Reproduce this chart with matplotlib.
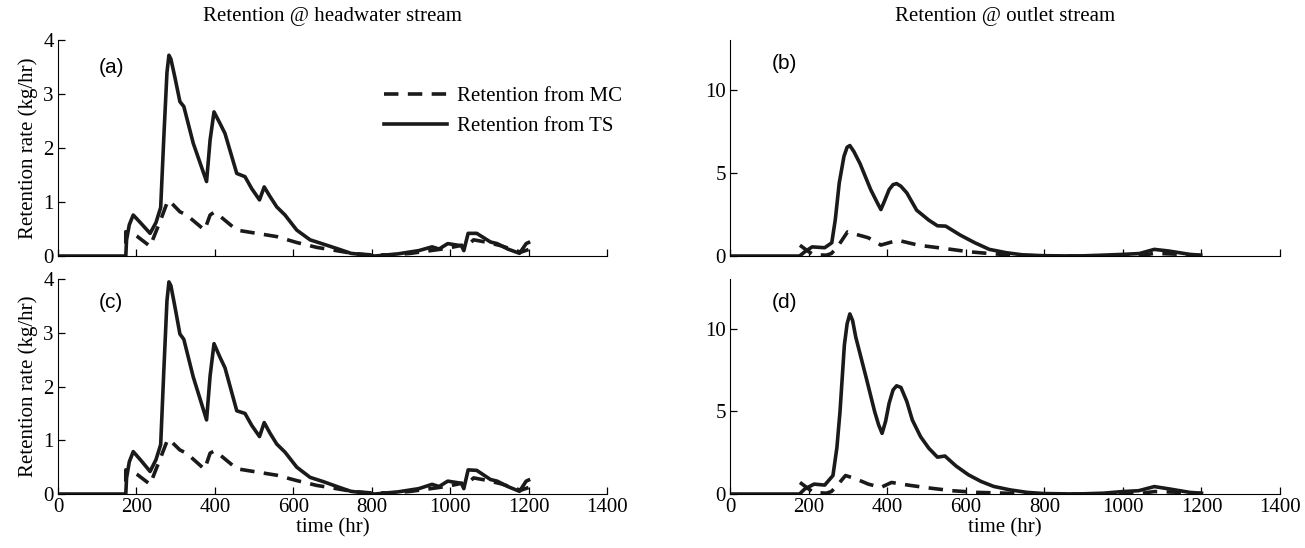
import matplotlib
matplotlib.use("Agg")
import matplotlib.pyplot as plt

plt.rcParams['font.family'] = ['Liberation Serif', 'DejaVu Serif']

# time (hr) / retention rate (kg/hr)
a_ts_t = [0, 173, 175, 182, 192, 210, 235, 250, 262, 270, 278, 283, 288, 298, 311, 321, 345, 379,
          388, 398, 413, 426, 456, 477, 494, 514, 526, 541, 558, 579, 609, 643, 677, 719, 747,
          808, 867, 920, 954, 972, 994, 1029, 1035, 1046, 1068, 1103, 1120, 1147, 1177, 1194, 1200]
a_ts_v = [0, 0, 0.3, 0.58, 0.76, 0.62, 0.42, 0.62, 0.9, 2.2, 3.4, 3.72, 3.65, 3.32, 2.86, 2.77, 2.09, 1.38,
          2.15, 2.67, 2.46, 2.27, 1.53, 1.47, 1.25, 1.04, 1.28, 1.1, 0.91, 0.76, 0.48, 0.30, 0.22, 0.12, 0.05,
          0.0, 0.04, 0.1, 0.17, 0.13, 0.23, 0.19, 0.1, 0.42, 0.42, 0.26, 0.23, 0.13, 0.05, 0.23, 0.25]
a_mc_t = [173, 173, 185, 201, 235, 262, 279, 283, 311, 328, 374, 388, 398, 413, 456, 507, 558,
          609, 660, 694, 750, 800, 850, 900, 950, 990, 1030, 1036, 1060, 1090, 1130, 1180, 1200]
a_mc_v = [0.23, 0.45, 0.44, 0.37, 0.18, 0.67, 1.0, 1.03, 0.82, 0.76, 0.48, 0.76, 0.81, 0.74, 0.48, 0.42, 0.36,
          0.25, 0.16, 0.12, 0.05, 0.02, 0.02, 0.05, 0.1, 0.14, 0.2, 0.14, 0.3, 0.26, 0.19, 0.07, 0.12]

c_ts_t = a_ts_t
c_ts_v = [0, 0, 0.3, 0.6, 0.79, 0.64, 0.42, 0.64, 0.92, 2.3, 3.6, 3.95, 3.88, 3.5, 2.98, 2.88, 2.18, 1.38,
          2.2, 2.8, 2.55, 2.35, 1.55, 1.5, 1.28, 1.07, 1.33, 1.13, 0.93, 0.78, 0.5, 0.31, 0.23, 0.12, 0.05,
          0.0, 0.04, 0.1, 0.18, 0.14, 0.24, 0.2, 0.1, 0.45, 0.44, 0.27, 0.24, 0.14, 0.05, 0.24, 0.26]
c_mc_t = a_mc_t
c_mc_v = [0.23, 0.45, 0.44, 0.37, 0.18, 0.68, 1.0, 1.02, 0.82, 0.76, 0.46, 0.76, 0.8, 0.73, 0.47, 0.41, 0.35,
          0.25, 0.16, 0.12, 0.05, 0.02, 0.02, 0.05, 0.1, 0.14, 0.2, 0.14, 0.3, 0.26, 0.19, 0.07, 0.12]

b_ts_t = [0, 177, 190, 209, 241, 259, 268, 278, 290, 298, 305, 315, 331, 358, 375, 384, 393, 405, 415,
          424, 435, 450, 475, 506, 528, 549, 586, 623, 660, 703, 745, 798, 883, 947, 1000, 1042, 1080,
          1117, 1170, 1198]
b_ts_v = [0, 0, 0.25, 0.55, 0.5, 0.8, 2.2, 4.4, 6.0, 6.55, 6.65, 6.3, 5.56, 4.0, 3.2, 2.8, 3.3, 4.0, 4.3,
          4.36, 4.2, 3.8, 2.76, 2.16, 1.82, 1.8, 1.26, 0.8, 0.4, 0.2, 0.07, 0.02, 0.0, 0.05, 0.1, 0.15, 0.4,
          0.3, 0.1, 0.05]
b_mc_t = [178, 195, 212, 245, 258, 275, 299, 352, 384, 427, 480, 544, 607, 660, 724, 800, 1000, 1050,
          1080, 1150, 1200]
b_mc_v = [0.65, 0.35, 0.08, 0.05, 0.15, 0.6, 1.45, 1.1, 0.66, 0.95, 0.65, 0.46, 0.26, 0.15, 0.05, 0.0, 0.0,
          0.05, 0.16, 0.1, 0.03]

d_ts_t = [0, 177, 190, 214, 241, 262, 272, 280, 291, 298, 305, 312, 320, 347, 368, 378, 387, 396, 405,
          415, 424, 435, 450, 464, 485, 506, 528, 547, 575, 607, 639, 671, 713, 756, 798, 880, 950, 1000,
          1040, 1080, 1120, 1170, 1200]
d_ts_v = [0, 0, 0.3, 0.6, 0.54, 1.12, 2.8, 5.0, 9.0, 10.3, 10.9, 10.5, 9.5, 7.0, 5.0, 4.2, 3.67, 4.4, 5.5,
          6.3, 6.55, 6.45, 5.6, 4.48, 3.47, 2.77, 2.23, 2.3, 1.7, 1.16, 0.76, 0.46, 0.25, 0.1, 0.03, 0.0,
          0.05, 0.15, 0.2, 0.45, 0.3, 0.1, 0.05]
d_mc_t = [178, 195, 212, 245, 258, 272, 294, 320, 352, 384, 411, 459, 512, 565, 628, 703, 800, 1000,
          1050, 1080, 1150, 1200]
d_mc_v = [0.7, 0.4, 0.1, 0.05, 0.15, 0.5, 1.12, 0.92, 0.6, 0.4, 0.7, 0.52, 0.35, 0.2, 0.1, 0.05, 0.0, 0.0,
          0.05, 0.15, 0.1, 0.03]

x_ticks = [0, 200, 400, 600, 800, 1000, 1200, 1400]


def draw_panel(ax, mc_t, mc_v, ts_t, ts_v, ymax, yticks, tag, tag_y, bottom):
    ax.plot(mc_t, mc_v, color='#1a1a1a', lw=2.6, ls=(0, (4, 2.6)), label='Retention from MC')
    ax.plot(ts_t, ts_v, color='#1a1a1a', lw=2.6, label='Retention from TS')
    ax.set_xlim(0, 1400)
    ax.set_ylim(0, ymax)
    ax.set_xticks(x_ticks)
    ax.set_yticks(yticks)
    ax.spines['top'].set_visible(False)
    ax.spines['right'].set_visible(False)
    ax.tick_params(direction='in', length=5, width=0.9, labelsize=15, pad=3)
    if not bottom:
        ax.set_xticklabels([])
    else:
        ax.set_xlabel('time (hr)', fontsize=15, labelpad=1)
    ax.text(0.075, tag_y, tag, transform=ax.transAxes, fontsize=15,
            family=['Liberation Sans', 'DejaVu Sans'], va='center')


fig = plt.figure(figsize=(13.05, 5.48), dpi=100)
ax_a = fig.add_axes([0.0444, 0.5328, 0.4207, 0.394])
ax_b = fig.add_axes([0.5594, 0.5328, 0.4215, 0.394])
ax_c = fig.add_axes([0.0444, 0.0985, 0.4207, 0.392])
ax_d = fig.add_axes([0.5594, 0.0985, 0.4215, 0.392])

draw_panel(ax_a, a_mc_t, a_mc_v, a_ts_t, a_ts_v, 4, [0, 1, 2, 3, 4], '(a)', 0.875, False)
draw_panel(ax_b, b_mc_t, b_mc_v, b_ts_t, b_ts_v, 13, [0, 5, 10], '(b)', 0.89, False)
draw_panel(ax_c, c_mc_t, c_mc_v, c_ts_t, c_ts_v, 4, [0, 1, 2, 3, 4], '(c)', 0.89, True)
draw_panel(ax_d, d_mc_t, d_mc_v, d_ts_t, d_ts_v, 13, [0, 5, 10], '(d)', 0.89, True)

ax_a.set_ylabel('Retention rate (kg/hr)', fontsize=15, labelpad=4)
ax_c.set_ylabel('Retention rate (kg/hr)', fontsize=15, labelpad=4)
ax_a.set_title('Retention @ headwater stream', fontsize=15, pad=14)
ax_b.set_title('Retention @ outlet stream', fontsize=15, pad=14)

ax_a.legend(loc='upper right', bbox_to_anchor=(1.028, 0.785), frameon=False, fontsize=15,
            handlelength=3.0, handletextpad=0.5, labelspacing=0.5, borderaxespad=0, borderpad=0)

fig.savefig('out.png', dpi=100)
